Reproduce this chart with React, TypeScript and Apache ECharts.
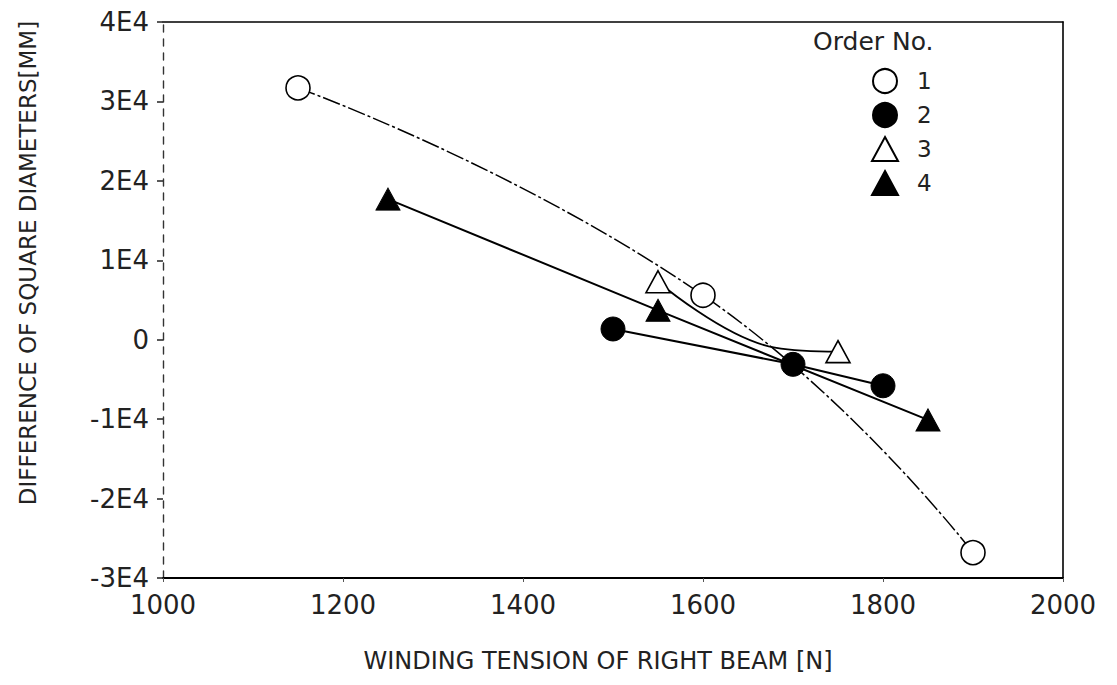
import React, { useEffect, useRef } from "react";
import * as echarts from "echarts";

// ---- data ----
const xTicks = [1000, 1200, 1400, 1600, 1800, 2000];
const yTicks = [-30000, -20000, -10000, 0, 10000, 20000, 30000, 40000];
const seriesNames = ["1", "2", "3", "4"];

const order1: [number, number][] = [
  [1150, 31700],
  [1600, 5600],
  [1900, -26800],
];
const order2: [number, number][] = [
  [1500, 1350],
  [1700, -3100],
  [1800, -5800],
];
const order3: [number, number][] = [
  [1550, 7300],
  [1750, -1500],
];
// knot through which the fitted curve of order 3 bends (no marker drawn)
const order3Bend: [number, number] = [1680, -1000];
const order4: [number, number][] = [
  [1250, 17700],
  [1550, 3700],
  [1850, -10100],
];

const FONT = "DejaVu Sans";

export default function App() {
  const ref = useRef<HTMLDivElement>(null);

  useEffect(() => {
    if (!ref.current) return;
    const chart = echarts.init(ref.current, undefined, { renderer: "svg" });

    const openStyle = { color: "#fff", borderColor: "#000", borderWidth: 1.6, opacity: 1 };
    const filledStyle = { color: "#000", borderColor: "#000", borderWidth: 1, opacity: 1 };

    const option: any = {
      animation: false,
      backgroundColor: "#fff",
      title: {
        text: "Order No.",
        left: 808,
        top: 24,
        textStyle: { fontFamily: FONT, fontSize: 25, fontWeight: "normal", color: "#222" },
      },
      legend: {
        orient: "vertical",
        left: 866,
        top: 63,
        itemWidth: 26,
        itemHeight: 24,
        itemGap: 8,
        data: [
          { name: seriesNames[0], icon: "circle" },
          { name: seriesNames[1], icon: "circle" },
          { name: seriesNames[2], icon: "triangle" },
          { name: seriesNames[3], icon: "triangle" },
        ],
        textStyle: {
          fontFamily: FONT,
          fontSize: 23,
          color: "#222",
          padding: [0, 0, 0, 14],
          lineHeight: 24,
        },
      },
      grid: { left: 163, right: 54, top: 22, bottom: 107 },
      xAxis: [
        {
          type: "value",
          min: xTicks[0],
          max: xTicks[xTicks.length - 1],
          interval: 200,
          axisLine: { show: true, onZero: false, lineStyle: { color: "#000", width: 2 } },
          axisTick: { show: true, length: 4, lineStyle: { color: "#555", width: 1 } },
          splitLine: { show: false },
          axisLabel: {
            margin: 14,
            fontFamily: FONT,
            fontSize: 26,
            color: "#222",
            formatter: (v: number) => String(v),
          },
        },
        {
          type: "value",
          position: "top",
          min: xTicks[0],
          max: xTicks[xTicks.length - 1],
          axisLine: { show: true, onZero: false, lineStyle: { color: "#000", width: 1.6 } },
          axisTick: { show: false },
          axisLabel: { show: false },
          splitLine: { show: false },
        },
      ],
      yAxis: [
        {
          type: "value",
          min: yTicks[0],
          max: yTicks[yTicks.length - 1],
          interval: 10000,
          axisLine: {
            show: true,
            onZero: false,
            lineStyle: { color: "#333", width: 1.4, type: [7, 7] },
          },
          axisTick: { show: true, length: 6, lineStyle: { color: "#222", width: 1.5 } },
          splitLine: { show: false },
          axisLabel: {
            margin: 14,
            fontFamily: FONT,
            fontSize: 26,
            color: "#222",
            formatter: (v: number) => (v === 0 ? "0" : `${v / 10000}E4`),
          },
        },
        {
          type: "value",
          position: "right",
          min: yTicks[0],
          max: yTicks[yTicks.length - 1],
          axisLine: { show: true, onZero: false, lineStyle: { color: "#000", width: 1.6 } },
          axisTick: { show: false },
          axisLabel: { show: false },
          splitLine: { show: false },
        },
      ],
      graphic: [
        {
          type: "text",
          x: 598,
          y: 661,
          style: {
            text: "WINDING TENSION OF RIGHT BEAM [N]",
            align: "center",
            verticalAlign: "middle",
            fontFamily: FONT,
            fontSize: 24,
            fill: "#222",
          },
        },
        {
          type: "text",
          x: 28,
          y: 263,
          rotation: Math.PI / 2,
          style: {
            text: "DIFFERENCE OF SQUARE DIAMETERS[MM]",
            align: "center",
            verticalAlign: "middle",
            fontFamily: FONT,
            fontSize: 23,
            fill: "#222",
          },
        },
      ],
      series: [
        // lines
        {
          name: "line1",
          type: "line",
          data: order1,
          smooth: 0.5,
          symbol: "none",
          silent: true,
          lineStyle: { color: "#000", width: 1.5, type: [18, 3, 3, 3] },
          z: 2,
        },
        {
          name: "line2",
          type: "line",
          data: order2,
          symbol: "none",
          silent: true,
          lineStyle: { color: "#000", width: 2 },
          z: 2,
        },
        {
          name: "line3",
          type: "line",
          data: [order3[0], order3Bend, order3[1]],
          smooth: 0.4,
          symbol: "none",
          silent: true,
          lineStyle: { color: "#000", width: 1.8 },
          z: 2,
        },
        {
          name: "line4",
          type: "line",
          data: order4,
          symbol: "none",
          silent: true,
          lineStyle: { color: "#000", width: 2 },
          z: 2,
        },
        // markers
        {
          name: seriesNames[0],
          type: "scatter",
          data: order1,
          symbol: "circle",
          symbolSize: 24,
          itemStyle: openStyle,
          z: 3,
        },
        {
          name: seriesNames[1],
          type: "scatter",
          data: order2,
          symbol: "circle",
          symbolSize: 24,
          itemStyle: filledStyle,
          z: 3,
        },
        {
          name: seriesNames[2],
          type: "scatter",
          data: order3,
          symbol: "triangle",
          symbolSize: [24, 22],
          itemStyle: openStyle,
          z: 3,
        },
        {
          name: seriesNames[3],
          type: "scatter",
          data: order4,
          symbol: "triangle",
          symbolSize: [24, 22],
          itemStyle: filledStyle,
          z: 3,
        },
      ],
    };

    chart.setOption(option);
    return () => chart.dispose();
  }, []);

  return (
    <div
      ref={ref}
      style={{ position: "fixed", left: 0, top: 0, width: 1117, height: 685, background: "#fff" }}
    />
  );
}
